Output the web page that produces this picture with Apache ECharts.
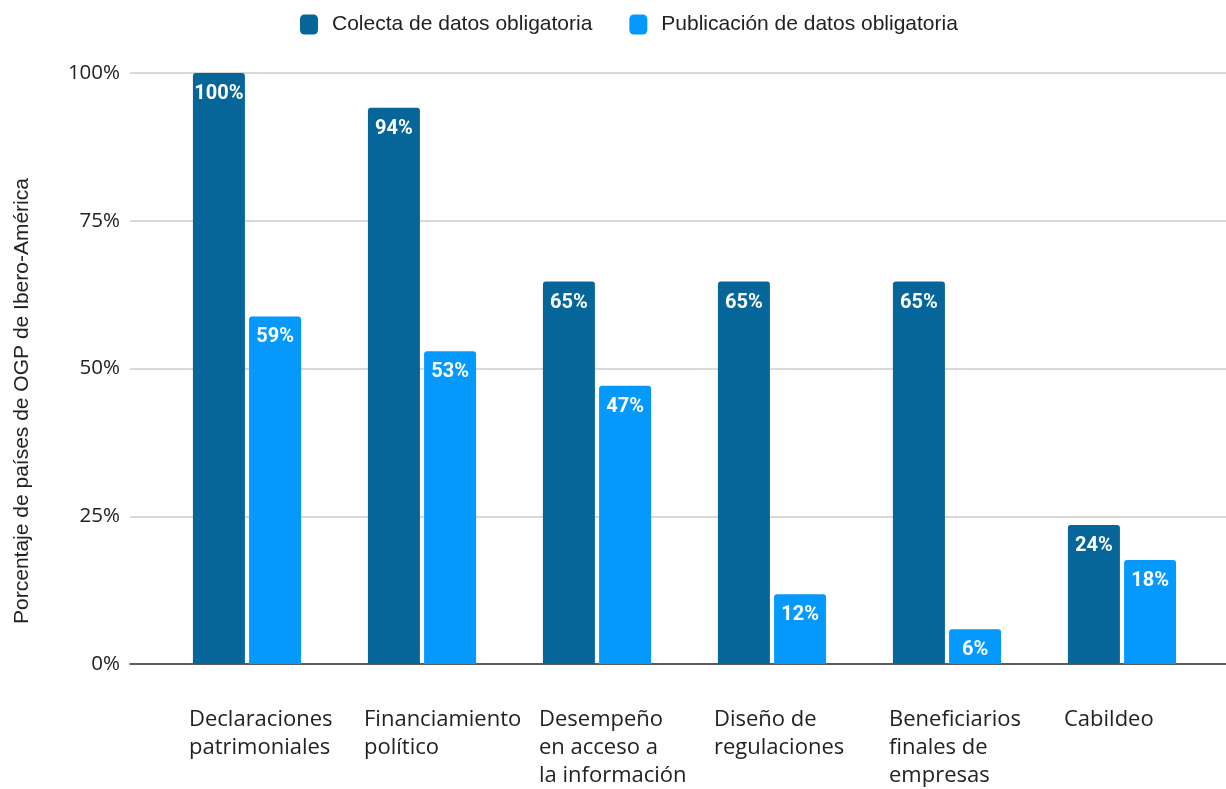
<!DOCTYPE html>
<html><head><meta charset="utf-8">
<script src="https://cdn.jsdelivr.net/npm/echarts@6/dist/echarts.min.js"></script>
<style>html,body{margin:0;padding:0;background:#fff}#c{width:1226px;height:789px}</style>
</head><body><div id="c"></div>
<script>
const categories = [
  'Declaraciones\npatrimoniales',
  'Financiamiento\npolítico',
  'Desempeño\nen acceso a\nla información',
  'Diseño de\nregulaciones',
  'Beneficiarios\nfinales de\nempresas',
  'Cabildeo'
];
const seriesNames = ['Colecta de datos obligatoria', 'Publicación de datos obligatoria'];
const colecta = [100, 94.1, 64.7, 64.7, 64.7, 23.5];
const publicacion = [58.8, 52.9, 47.1, 11.8, 5.9, 17.6];
const yTicks = [0, 25, 50, 75, 100];
const yTitle = 'Porcentaje de países de OGP de Ibero-América';

const chart = echarts.init(document.getElementById('c'), null, {renderer: 'canvas'});
const GT = 73, GB = 125;
const labelStyle = {
  show: true, position: 'insideTop', distance: 11,
  color: '#fff', fontFamily: 'Roboto', fontWeight: 'bold', fontSize: 20,
  formatter: p => Math.round(p.value) + '%'
};
chart.setOption({
  animation: false,
  legend: {
    top: 9, left: 295, itemWidth: 18, itemHeight: 20, itemGap: 37,
    icon: 'roundRect',
    textStyle: {fontFamily: 'Liberation Sans', fontSize: 21, color: '#222', padding: [0,0,0,9]},
    data: seriesNames
  },
  graphic: [{
    type: 'text', x: 22, y: 401, rotation: Math.PI / 2,
    style: {text: yTitle, fontFamily: 'Liberation Sans', fontSize: 21, fill: '#222',
            align: 'center', verticalAlign: 'middle'}
  }],
  grid: [
    {left: 130, right: 0, top: GT, bottom: GB},
    {left: 159.5, right: 16.5, top: GT, bottom: GB}
  ],
  xAxis: [
    {gridIndex: 0, type: 'value', min: 0, max: 1, show: true,
     axisLine: {show: true, onZero: false, lineStyle: {color: '#333', width: 1.5}},
     axisTick: {show: false}, axisLabel: {show: false}, splitLine: {show: false}},
    {gridIndex: 1, type: 'category', data: categories,
     axisLine: {show: false}, axisTick: {show: false},
     axisLabel: {
       margin: 42, interval: 0, fontFamily: 'Open Sans', fontSize: 22, color: '#222',
       formatter: v => v.split('\n').map(s => '{a|' + s + '}').join('\n'),
       rich: {a: {align: 'left', width: 116, fontFamily: 'Open Sans', fontSize: 22, lineHeight: 28, color: '#222'}}
     }}
  ],
  yAxis: [
    {gridIndex: 0, type: 'value', min: 0, max: 100, interval: 25,
     axisLine: {show: false}, axisTick: {show: false},
     axisLabel: {margin: 10, fontFamily: 'Open Sans', fontSize: 20.5, color: '#222', formatter: v => v + '%'},
     splitLine: {show: true, lineStyle: {color: '#cccccc', width: 1.5}}},
    {gridIndex: 1, type: 'value', min: 0, max: 100, interval: 25, show: false, splitLine: {show: false}}
  ],
  series: [
    {name: seriesNames[0], type: 'bar', xAxisIndex: 1, yAxisIndex: 1, data: colecta,
     barWidth: 52, barGap: '8%', itemStyle: {color: '#06669A', borderRadius: [3,3,0,0]}, label: labelStyle},
    {name: seriesNames[1], type: 'bar', xAxisIndex: 1, yAxisIndex: 1, data: publicacion,
     barWidth: 52, barGap: '8%', itemStyle: {color: '#0599FE', borderRadius: [3,3,0,0]}, label: labelStyle}
  ]
});
</script></body></html>
